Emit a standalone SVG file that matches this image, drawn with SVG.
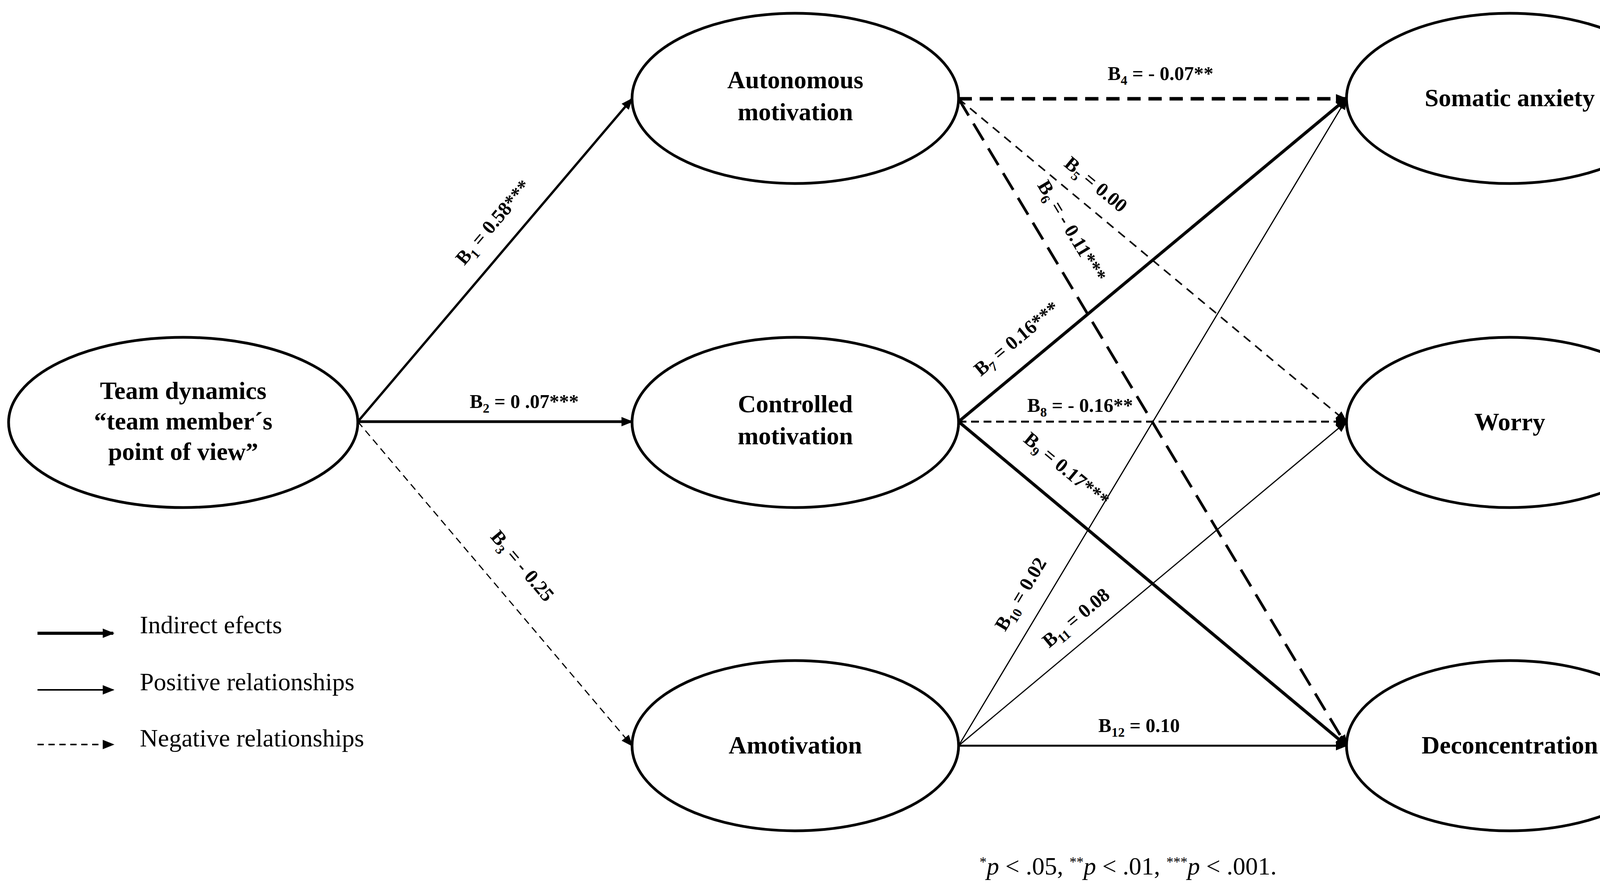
<svg xmlns="http://www.w3.org/2000/svg" width="4313" height="2295" viewBox="0 0 4313 2295">
<style>
.n{fill:#fff;stroke:#000;stroke-width:7}
.t{font-family:"Liberation Serif",serif;font-weight:bold;font-size:64px;text-anchor:middle}
.l{font-family:"Liberation Serif",serif;font-weight:bold;font-size:50px;text-anchor:middle}
.g{font-family:"Liberation Serif",serif;font-size:64px}
.e{fill:none;stroke:#000}
.s{font-size:34px}
</style>
<defs>
<marker id="m" viewBox="0 0 10 10" refX="9" refY="5" markerWidth="30" markerHeight="30" markerUnits="userSpaceOnUse" orient="auto"><path d="M0,1L10,5L0,9z"/></marker>
</defs>
<rect width="4313" height="2295" fill="#fff"/>
<g id="connectors">
<line class="e" x1="916" y1="1080" x2="1618" y2="253" stroke-width="6" marker-end="url(#m)"/>
<line class="e" x1="916" y1="1080" x2="1618" y2="1080" stroke-width="7" marker-end="url(#m)"/>
<line class="e" x1="916" y1="1080" x2="1618" y2="1910" stroke-width="3" stroke-dasharray="18 12" marker-end="url(#m)"/>
<line class="e" x1="2454" y1="253" x2="3447" y2="253" stroke-width="9" stroke-dasharray="34 20" marker-end="url(#m)"/>
<line class="e" x1="2454" y1="253" x2="3447" y2="1080" stroke-width="4" stroke-dasharray="22 16" marker-end="url(#m)"/>
<line class="e" x1="2454" y1="253" x2="3447" y2="1910" stroke-width="7" stroke-dasharray="50 24" marker-end="url(#m)"/>
<line class="e" x1="2454" y1="1080" x2="3447" y2="253" stroke-width="8" marker-end="url(#m)"/>
<line class="e" x1="2454" y1="1080" x2="3447" y2="1080" stroke-width="5" stroke-dasharray="20 12" marker-end="url(#m)"/>
<line class="e" x1="2454" y1="1080" x2="3447" y2="1910" stroke-width="8" marker-end="url(#m)"/>
<line class="e" x1="2454" y1="1910" x2="3447" y2="253" stroke-width="3" marker-end="url(#m)"/>
<line class="e" x1="2454" y1="1910" x2="3447" y2="1080" stroke-width="3" marker-end="url(#m)"/>
<line class="e" x1="2454" y1="1910" x2="3447" y2="1910" stroke-width="5" marker-end="url(#m)"/>
</g>
<g id="edge-labels">
<text class="l" transform="translate(1275,580) rotate(-49.7)">B<tspan class="s" dy="12">1</tspan><tspan dy="-12"> = 0.58***</tspan></text>
<text class="l" x="1342" y="1045">B<tspan class="s" dy="12">2</tspan><tspan dy="-12"> = 0 .07***</tspan></text>
<text class="l" transform="translate(1325,1460) rotate(49.8)">B<tspan class="s" dy="12">3</tspan><tspan dy="-12"> = - 0.25</tspan></text>
<text class="l" x="2971" y="205">B<tspan class="s" dy="12">4</tspan><tspan dy="-12"> = - 0.07**</tspan></text>
<text class="l" transform="translate(2795,485) rotate(39.8)">B<tspan class="s" dy="12">5</tspan><tspan dy="-12"> = 0.00</tspan></text>
<text class="l" transform="translate(2730,600) rotate(59)">B<tspan class="s" dy="12">6</tspan><tspan dy="-12"> = - 0.11***</tspan></text>
<text class="l" transform="translate(2613,880) rotate(-39.8)">B<tspan class="s" dy="12">7</tspan><tspan dy="-12"> = 0.16***</tspan></text>
<text class="l" x="2765" y="1055">B<tspan class="s" dy="12">8</tspan><tspan dy="-12"> = - 0.16**</tspan></text>
<text class="l" transform="translate(2720,1215) rotate(39.9)">B<tspan class="s" dy="12">9</tspan><tspan dy="-12"> = 0.17***</tspan></text>
<text class="l" transform="translate(2627,1530) rotate(-59)">B<tspan class="s" dy="12">10</tspan><tspan dy="-12"> = 0.02</tspan></text>
<text class="l" transform="translate(2765,1595) rotate(-39.8)">B<tspan class="s" dy="12">11</tspan><tspan dy="-12"> = 0.08</tspan></text>
<text class="l" x="2916" y="1875">B<tspan class="s" dy="12">12</tspan><tspan dy="-12"> = 0.10</tspan></text>
</g>
<g id="team"><ellipse class="n" cx="469" cy="1082" rx="447" ry="218"/>
<text class="t" x="469" y="1022">Team dynamics</text><text class="t" x="469" y="1100">“team member´s</text><text class="t" x="469" y="1178">point of view”</text></g>
<g id="autonomous"><ellipse class="n" cx="2036" cy="252" rx="418" ry="218"/>
<text class="t" x="2036" y="226">Autonomous</text><text class="t" x="2036" y="308">motivation</text></g>
<g id="controlled"><ellipse class="n" cx="2036" cy="1082" rx="418" ry="218"/>
<text class="t" x="2036" y="1056">Controlled</text><text class="t" x="2036" y="1138">motivation</text></g>
<g id="amotivation"><ellipse class="n" cx="2036" cy="1910" rx="418" ry="218"/>
<text class="t" x="2036" y="1930">Amotivation</text></g>
<g id="somatic"><ellipse class="n" cx="3865" cy="252" rx="418" ry="218"/>
<text class="t" x="3865" y="272">Somatic anxiety</text></g>
<g id="worry"><ellipse class="n" cx="3865" cy="1082" rx="418" ry="218"/>
<text class="t" x="3865" y="1102">Worry</text></g>
<g id="deconcentration"><ellipse class="n" cx="3865" cy="1910" rx="418" ry="218"/>
<text class="t" x="3865" y="1930">Deconcentration</text></g>
<g id="legend">
<line class="e" x1="96" y1="1622" x2="290" y2="1622" stroke-width="8" marker-end="url(#m)"/>
<line class="e" x1="96" y1="1767" x2="290" y2="1767" stroke-width="4" marker-end="url(#m)"/>
<line class="e" x1="96" y1="1907" x2="290" y2="1907" stroke-width="4" stroke-dasharray="16 12" marker-end="url(#m)"/>
<text class="g" x="358" y="1622">Indirect efects</text>
<text class="g" x="358" y="1768">Positive relationships</text>
<text class="g" x="358" y="1912">Negative relationships</text>
</g>
<text class="g" x="2888" y="2240" text-anchor="middle" font-size="60"><tspan baseline-shift="super" font-size="36">*</tspan><tspan font-style="italic">p</tspan> &lt; .05, <tspan baseline-shift="super" font-size="36">**</tspan><tspan font-style="italic">p</tspan> &lt; .01, <tspan baseline-shift="super" font-size="36">***</tspan><tspan font-style="italic">p</tspan> &lt; .001.</text>
</svg>
